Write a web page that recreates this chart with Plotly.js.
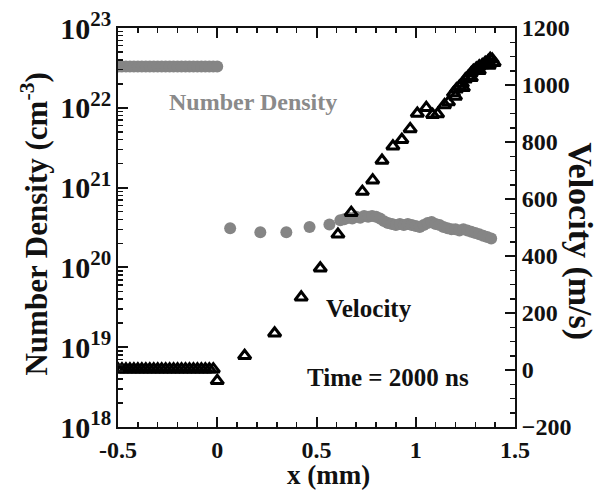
<!DOCTYPE html>
<html>
<head>
<meta charset="utf-8">
<script src="https://cdn.plot.ly/plotly-3.0.1.min.js"></script>
<style>html,body{margin:0;padding:0;background:#fff;}#chart{width:596px;height:490px;}</style>
</head>
<body>
<div id="chart"></div>
<script>
// Number density (cm^-3) vs x (mm)
var densX = [-0.50,-0.48,-0.46,-0.44,-0.42,-0.40,-0.38,-0.36,-0.34,-0.32,-0.30,-0.28,-0.26,-0.24,-0.22,-0.20,-0.18,-0.16,-0.14,-0.12,-0.10,-0.08,-0.06,-0.04,-0.02,0.00,
  0.065,0.217,0.348,0.465,0.565,
  0.62,0.64,0.66,0.68,0.70,0.72,0.74,0.76,0.78,0.80,0.82,0.84,0.86,0.88,0.90,0.92,0.94,0.96,0.98,1.00,
  1.02,1.04,1.06,1.08,1.10,1.12,1.14,1.16,1.18,1.20,1.22,1.24,1.26,1.28,1.30,1.32,1.34,1.36,1.38];
var densY = [3.3e22,3.3e22,3.3e22,3.3e22,3.3e22,3.3e22,3.3e22,3.3e22,3.3e22,3.3e22,3.3e22,3.3e22,3.3e22,3.3e22,3.3e22,3.3e22,3.3e22,3.3e22,3.3e22,3.3e22,3.3e22,3.3e22,3.3e22,3.3e22,3.3e22,3.3e22,
  3.1e20,2.75e20,2.75e20,3.2e20,3.45e20,
  3.9e20,4.0e20,4.2e20,4.1e20,4.3e20,4.2e20,4.4e20,4.3e20,4.4e20,4.3e20,4.1e20,3.8e20,3.6e20,3.5e20,3.4e20,3.5e20,3.4e20,3.5e20,3.4e20,3.3e20,
  3.2e20,3.4e20,3.6e20,3.7e20,3.5e20,3.4e20,3.2e20,3.1e20,3.0e20,3.0e20,2.9e20,3.0e20,2.9e20,2.8e20,2.7e20,2.6e20,2.5e20,2.4e20,2.3e20];

// Velocity (m/s) vs x (mm)
var velX = [-0.50,-0.48,-0.46,-0.44,-0.42,-0.40,-0.38,-0.36,-0.34,-0.32,-0.30,-0.28,-0.26,-0.24,-0.22,-0.20,-0.18,-0.16,-0.14,-0.12,-0.10,-0.08,-0.06,-0.04,-0.02,0.00,
  0.138,0.289,0.423,0.519,0.608,0.675,0.731,0.783,0.830,0.885,0.930,0.972,1.008,1.053,1.085,1.110,1.145,1.165,
  1.19,1.20,1.205,1.22,1.235,1.24,1.25,1.265,1.28,1.28,1.29,1.305,1.32,1.32,1.335,1.35,1.365,1.37,1.375,1.385,1.395];
var velY = [3,3,3,3,3,3,3,3,3,3,3,3,3,3,3,3,3,3,3,3,3,3,3,3,3,-38,
  50,129,255,357,476,552,626,666,735,785,808,846,900,920,896,898,930,940,
  972,960,985,995,1005,990,1020,1030,1042,1025,1050,1058,1066,1050,1070,1078,1084,1068,1092,1090,1078];

var textLabels = {dens: 'Number Density', vel: 'Velocity', time: 'Time = 2000 ns'};
var FONT = 'Liberation Serif, Times New Roman, serif';

var traces = [
  {x: densX, y: densY, type: 'scatter', mode: 'markers', yaxis: 'y',
   marker: {symbol: 'circle', size: 12, color: '#858585'}, showlegend: false},
  {x: velX, y: velY, type: 'scatter', mode: 'markers', yaxis: 'y2',
   marker: {symbol: 'triangle-up-open', size: 11, color: '#000', line: {width: 3, color: '#000'}}, showlegend: false}
];

var tf = {family: FONT, size: 24, color: '#111', weight: 'bold'};

var layout = {
  width: 596, height: 490,
  margin: {l: 118, r: 81, t: 28, b: 63},
  paper_bgcolor: '#fff', plot_bgcolor: '#fff',
  font: {family: FONT, color: '#111', weight: 'bold'},
  xaxis: {range: [-0.5, 1.5], tickvals: [-0.5, 0, 0.5, 1, 1.5], ticktext: ['-0.5','0','0.5','1','1.5'],
    ticks: 'inside', ticklen: 10, tickwidth: 2, tickcolor: '#111',
    minor: {dtick: 0.1, tick0: 0, ticks: 'inside', ticklen: 5, tickwidth: 1.5, tickcolor: '#111'},
    showline: true, linewidth: 2, linecolor: '#111', mirror: 'ticks', showgrid: false, zeroline: false,
    tickfont: tf},
  yaxis: {type: 'log', range: [18, 23], dtick: 1, exponentformat: 'power',
    ticks: 'inside', ticklen: 10, tickwidth: 2, tickcolor: '#111',
    minor: {dtick: 'D1', ticks: 'inside', ticklen: 5, tickwidth: 1.5, tickcolor: '#111'},
    showline: true, linewidth: 2, linecolor: '#111', showgrid: false, zeroline: false,
    tickfont: tf},
  yaxis2: {overlaying: 'y', side: 'right', range: [-200, 1200], dtick: 200,
    ticks: 'inside', ticklen: 10, tickwidth: 2, tickcolor: '#111',
    minor: {dtick: 50, ticks: 'inside', ticklen: 5, tickwidth: 1.5, tickcolor: '#111'},
    showline: true, linewidth: 2, linecolor: '#111', showgrid: false, zeroline: false,
    tickfont: tf},
  annotations: [
    {text: textLabels.dens, xref: 'x', yref: 'paper', x: 0.179, y: 0.815, xanchor: 'center', yanchor: 'middle', showarrow: false,
     font: {family: FONT, size: 24, color: '#8a8a8a', weight: 'bold'}},
    {text: textLabels.vel, xref: 'x', yref: 'paper', x: 0.763, y: 0.298, xanchor: 'center', yanchor: 'middle', showarrow: false,
     font: {family: FONT, size: 25, color: '#111', weight: 'bold'}},
    {text: textLabels.time, xref: 'x', yref: 'paper', x: 0.861, y: 0.125, xanchor: 'center', yanchor: 'middle', showarrow: false,
     font: {family: FONT, size: 25, color: '#111', weight: 'bold'}},
    {text: 'Number Density (cm<sup>-3</sup>)', xref: 'paper', yref: 'paper', x: -0.21, y: 0.509,
     xanchor: 'center', yanchor: 'middle',
     textangle: -90, showarrow: false, font: {family: FONT, size: 31, color: '#111', weight: 'bold'}},
    {text: 'Velocity (m/s)', xref: 'paper', yref: 'paper', x: 1.162, y: 0.465,
     xanchor: 'center', yanchor: 'middle',
     textangle: 90, showarrow: false, font: {family: FONT, size: 34, color: '#111', weight: 'bold'}},
    {text: 'x (mm)', xref: 'paper', yref: 'paper', x: 0.529, y: -0.121,
     xanchor: 'center', yanchor: 'middle',
     showarrow: false, font: {family: FONT, size: 27, color: '#111', weight: 'bold'}}
  ]
};

Plotly.newPlot('chart', traces, layout, {displayModeBar: false, staticPlot: true});
</script>
</body>
</html>
